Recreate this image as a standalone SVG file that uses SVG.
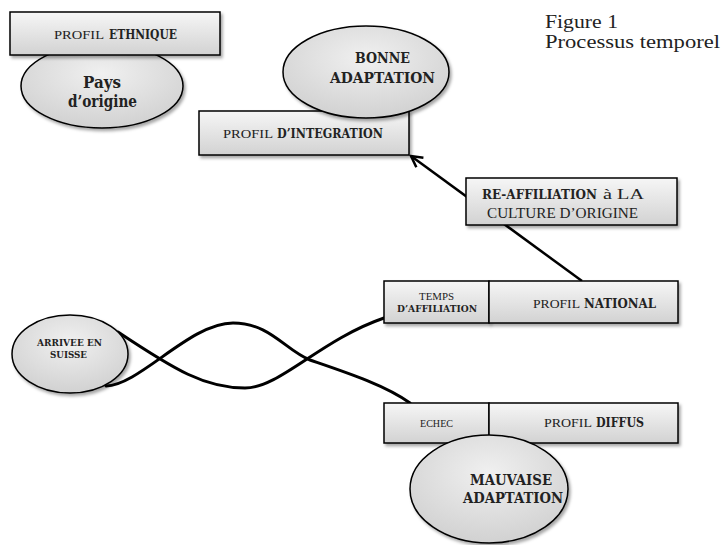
<svg xmlns="http://www.w3.org/2000/svg" width="721" height="545" viewBox="0 0 721 545">
<defs>
  <linearGradient id="boxGrad" x1="0" y1="0" x2="0" y2="1">
    <stop offset="0" stop-color="#f6f6f6"/>
    <stop offset="1" stop-color="#d2d2d2"/>
  </linearGradient>
  <radialGradient id="ellGrad" cx="0.5" cy="0.35" r="0.7">
    <stop offset="0" stop-color="#f0f0f0"/>
    <stop offset="1" stop-color="#cfcfcf"/>
  </radialGradient>
  <filter id="shadow" x="-10%" y="-20%" width="130%" height="150%">
    <feDropShadow dx="2" dy="2.5" stdDeviation="1.5" flood-color="#000" flood-opacity="0.35"/>
  </filter>
  <marker id="arrow" markerWidth="14" markerHeight="14" refX="12" refY="7" orient="auto" markerUnits="userSpaceOnUse">
    <path d="M1,1 L12,7 L1,13" fill="none" stroke="#000" stroke-width="2.5"/>
  </marker>
</defs>
<style>
  .box { fill: url(#boxGrad); stroke: #000; stroke-width: 1.5; filter: url(#shadow); }
  .ell { fill: url(#ellGrad); stroke: #000; stroke-width: 1.5; filter: url(#shadow); }
  .t { font-family: "Liberation Serif", "DejaVu Serif", serif; fill: #222; text-anchor: middle; }
  .s { text-anchor: start; }
  .b { font-family: "DejaVu Serif", "Liberation Serif", serif; font-weight: bold; }
  .curve { fill: none; stroke: #000; stroke-width: 3; stroke-linecap: round; }
  .arrowline { fill: none; stroke: #000; stroke-width: 2.5; }
</style>

<g id="connectors">
  <path class="arrowline" d="M582,281 L411,156" marker-end="url(#arrow)"/>
  <path class="curve" d="M118,332 C175,370 205,388 245,388 C280,388 320,340 384,318"/>
  <path class="curve" d="M106,386 C140,385 190,323 233,323 C270,323 285,350 310,360 C345,372 385,385 410,403"/>
</g>

<g id="pays-origine">
  <ellipse class="ell" cx="102" cy="86" rx="81" ry="42"/>
  <text class="t b" x="102" y="88" font-size="16" textLength="38" lengthAdjust="spacingAndGlyphs">Pays</text>
  <text class="t b" x="102.5" y="107" font-size="16" textLength="69" lengthAdjust="spacingAndGlyphs">d’origine</text>
</g>

<g id="profil-ethnique">
  <rect class="box" x="10" y="12" width="210" height="43"/>
  <text class="t s" x="54" y="39" font-size="13.5" textLength="50" lengthAdjust="spacingAndGlyphs">PROFIL</text>
  <text class="t s b" x="109" y="39" font-size="13" textLength="68" lengthAdjust="spacingAndGlyphs">ETHNIQUE</text>
</g>

<g id="profil-integration">
  <rect class="box" x="199" y="111" width="210" height="44"/>
  <text class="t s" x="223" y="138" font-size="13.5" textLength="50" lengthAdjust="spacingAndGlyphs">PROFIL</text>
  <text class="t s b" x="277" y="138" font-size="13" textLength="106" lengthAdjust="spacingAndGlyphs">D’INTEGRATION</text>
</g>

<g id="bonne-adaptation">
  <ellipse class="ell" cx="366" cy="72" rx="83" ry="46"/>
  <text class="t b" x="382.5" y="63" font-size="15" textLength="55" lengthAdjust="spacingAndGlyphs">BONNE</text>
  <text class="t b" x="382.5" y="83" font-size="15" textLength="105" lengthAdjust="spacingAndGlyphs">ADAPTATION</text>
</g>

<g id="reaffiliation">
  <rect class="box" x="466" y="178" width="211" height="47"/>
  <text class="t s b" x="482" y="199" font-size="12.8" textLength="115" lengthAdjust="spacingAndGlyphs">RE-AFFILIATION</text>
  <text class="t s" x="603" y="199" font-size="15" textLength="41" lengthAdjust="spacingAndGlyphs">à LA</text>
  <text class="t" x="562.5" y="218" font-size="15" textLength="151" lengthAdjust="spacingAndGlyphs">CULTURE D’ORIGINE</text>
</g>

<g id="temps-affiliation">
  <rect class="box" x="384" y="281" width="105" height="42"/>
  <text class="t" x="436.5" y="300" font-size="10" textLength="35" lengthAdjust="spacingAndGlyphs">TEMPS</text>
  <text class="t b" x="437" y="312" font-size="10" textLength="80" lengthAdjust="spacingAndGlyphs">D’AFFILIATION</text>
</g>

<g id="profil-national">
  <rect class="box" x="489" y="281" width="189" height="42"/>
  <text class="t s" x="533" y="308" font-size="13.5" textLength="47" lengthAdjust="spacingAndGlyphs">PROFIL</text>
  <text class="t s b" x="584" y="308" font-size="13" textLength="72" lengthAdjust="spacingAndGlyphs">NATIONAL</text>
</g>

<g id="echec">
  <rect class="box" x="384" y="403" width="105" height="40"/>
  <text class="t" x="436.5" y="427" font-size="10" textLength="33" lengthAdjust="spacingAndGlyphs">ECHEC</text>
</g>

<g id="profil-diffus">
  <rect class="box" x="489" y="403" width="189" height="40"/>
  <text class="t s" x="544" y="427" font-size="13.5" textLength="48" lengthAdjust="spacingAndGlyphs">PROFIL</text>
  <text class="t s b" x="596" y="427" font-size="13" textLength="48" lengthAdjust="spacingAndGlyphs">DIFFUS</text>
</g>

<g id="mauvaise-adaptation">
  <ellipse class="ell" cx="489" cy="489" rx="79" ry="54"/>
  <text class="t b" x="511" y="485" font-size="15" textLength="82" lengthAdjust="spacingAndGlyphs">MAUVAISE</text>
  <text class="t b" x="513" y="503" font-size="15" textLength="100" lengthAdjust="spacingAndGlyphs">ADAPTATION</text>
</g>

<g id="arrivee-suisse">
  <ellipse class="ell" cx="70" cy="354" rx="58" ry="39"/>
  <text class="t b" x="69.5" y="346" font-size="10" textLength="65" lengthAdjust="spacingAndGlyphs">ARRIVEE EN</text>
  <text class="t b" x="68.5" y="358" font-size="10" textLength="37" lengthAdjust="spacingAndGlyphs">SUISSE</text>
</g>

<g id="title">
  <text x="545" y="28" font-family="'Liberation Serif', 'DejaVu Serif', serif" font-size="18" fill="#222" textLength="73" lengthAdjust="spacingAndGlyphs">Figure 1</text>
  <text x="545" y="48" font-family="'Liberation Serif', 'DejaVu Serif', serif" font-size="18" fill="#222" textLength="175" lengthAdjust="spacingAndGlyphs">Processus temporel</text>
</g>
</svg>
